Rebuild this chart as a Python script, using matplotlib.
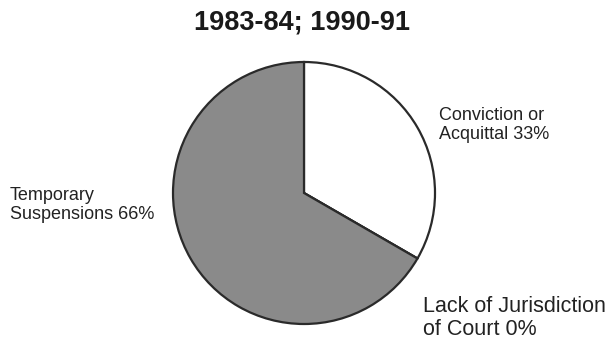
import numpy as np
import matplotlib
matplotlib.use("Agg")
import matplotlib.pyplot as plt

plt.rcParams["font.family"] = ["Liberation Sans", "DejaVu Sans"]

title = "1983-84; 1990-91"
labels = ["Conviction or\nAcquittal 33%", "Lack of Jurisdiction\nof Court 0%", "Temporary\nSuspensions 66%"]
shares = [33, 0, 66]
colors = ["white", "#8a8a8a", "#8a8a8a"]

W, H = 614, 343
fig = plt.figure(figsize=(W / 100, H / 100), dpi=100)
ax = fig.add_axes([0, 0, 1, 1])

# slices run clockwise from 12 o'clock; the 0% slice collapses onto the boundary
ax.pie(shares, colors=colors, startangle=90, counterclock=False,
       center=(304, H - 193), radius=131, frame=True,
       wedgeprops=dict(edgecolor="#2a2a2a", linewidth=1.6))
ax.set_xlim(0, W)
ax.set_ylim(0, H)
ax.set_aspect("equal")
ax.axis("off")

ax.text(302, H - 22, title, ha="center", va="center", fontsize=19.5, fontweight="bold", color="#1a1a1a")
txt = dict(fontsize=13, color="#222222", va="top", ha="left", linespacing=1.15)
ax.text(439, H - 107, labels[0], **txt)
ax.text(423, H - 296, labels[1], **{**txt, "fontsize": 15.5, "linespacing": 1.1})
ax.text(10, H - 187, labels[2], **txt)

fig.savefig("out.png", dpi=100)
